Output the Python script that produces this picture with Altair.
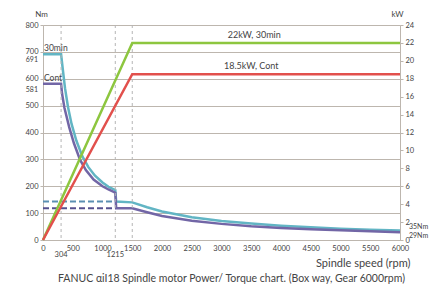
import altair as alt
import pandas as pd

# ---------------- data ----------------
rpm_30 = [0, 304, 330, 370, 420, 480, 560, 660, 760, 870, 1000, 1100, 1215, 1230, 1500,
          1750, 2000, 2500, 3000, 3500, 4000, 4500, 5000, 5500, 6000]
tq_30 = [691, 691, 640, 565, 495, 432, 370, 312, 272, 240, 214, 198, 186, 143, 140,
         122, 106, 85, 71, 61, 53, 47, 42, 38.5, 35]

rpm_cont = [0, 304, 320, 360, 440, 520, 620, 720, 850, 1000, 1100, 1215, 1230, 1500,
            1750, 2000, 2500, 3000, 3500, 4000, 4500, 5000, 5500, 6000]
tq_cont = [581, 581, 545, 492, 420, 360, 300, 260, 225, 200, 188, 176, 118, 118,
           103, 89, 72, 60, 51, 45, 40, 36, 32.5, 29]

rpm_pw = [0, 1500, 6000]
kw_30 = [0, 22, 22]
kw_cont = [0, 18.5, 18.5]

dash_rpm_end = 1215
dash_nm = [143, 118]

vline_rpm = [304, 1215, 1500]
x_ticks = list(range(0, 6001, 500))
y_ticks = list(range(0, 801, 100))
kw_ticks = list(range(0, 25, 2))
extra_x = [304, 1215]
extra_y = [691, 581]
end_nm = [35, 29]

caption = "FANUC \u03b1iI18 Spindle motor Power/ Torque chart. (Box way, Gear 6000rpm)"

# ---------------- styling ----------------
W, H = 357, 215
FONT = "Lato"
TXT = "#444444"
GRID = "#bdb6ae"
C30, CCONT = "#62b5c4", "#7266a6"
CD30, CDCONT = "#5b8fb2", "#55508e"
CG, CR = "#8dc63f", "#e2504c"
TICKFS = 7.5

torque_df = pd.DataFrame({
    "rpm": rpm_30 + rpm_cont,
    "nm": tq_30 + tq_cont,
    "series": ["30min"] * len(rpm_30) + ["Cont"] * len(rpm_cont),
})
power_df = pd.DataFrame({
    "rpm": rpm_pw + rpm_pw,
    "kw": kw_30 + kw_cont,
    "series": ["22kW"] * 3 + ["18.5kW"] * 3,
})
dash_df = pd.DataFrame({"rpm": [0, 0], "rpm2": [dash_rpm_end] * 2, "nm": dash_nm,
                        "series": ["d30", "dcont"]})
vline_df = pd.DataFrame({"rpm": vline_rpm})
xlab_df = pd.DataFrame({"rpm": extra_x, "lab": [str(v) for v in extra_x]})
ylab_df = pd.DataFrame({"nm": extra_y, "lab": [str(v) for v in extra_y]})
end_hi_df = pd.DataFrame({"rpm": [6000], "nm": [end_nm[0]], "lab": [f"{end_nm[0]}Nm"]})
end_lo_df = pd.DataFrame({"rpm": [6000], "nm": [end_nm[1]], "lab": [f"{end_nm[1]}Nm"]})
tlab_df = pd.DataFrame({"rpm": [0, 0], "nm": [691, 581], "lab": ["30min", "Cont"]})
plab_df = pd.DataFrame({"rpm": [3550, 3500], "kw": [22, 18.5],
                        "lab": ["22kW, 30min", "18.5kW, Cont"]})

xscale = alt.Scale(domain=[0, 6000], nice=False)
yscale = alt.Scale(domain=[0, 800], nice=False)
kscale = alt.Scale(domain=[0, 24], nice=False)

X_AXIS = alt.Axis(
    values=x_ticks, format="d", labelOverlap=False, labelFlush=False, grid=False,
    ticks=False, domainColor=GRID, labelFontSize=TICKFS, labelColor=TXT,
    labelFont=FONT, labelPadding=4,
    title="Spindle speed (rpm)", titleFont=FONT, titleFontSize=11,
    titleFontWeight="normal", titleColor=TXT, titleX=W + 10, titleY=26,
    titleAlign="right", titleBaseline="alphabetic")
Y_AXIS = alt.Axis(
    values=y_ticks, format="d", labelOverlap=False, labelFlush=False, grid=True,
    gridColor=GRID, gridWidth=1, domainColor=GRID, tickColor=GRID, tickSize=3,
    labelFontSize=TICKFS, labelColor=TXT, labelFont=FONT, labelPadding=2,
    title="Nm", titleAngle=0, titleX=-2, titleY=-7, titleAlign="center",
    titleBaseline="bottom", titleFont=FONT, titleFontSize=8,
    titleFontWeight="normal", titleColor=TXT)
K_AXIS = alt.Axis(
    orient="right", values=kw_ticks, format="d", labelOverlap=False, labelFlush=False,
    grid=False, domainColor=GRID, tickColor=GRID, tickSize=3, labelFontSize=TICKFS,
    labelColor=TXT, labelFont=FONT, labelPadding=2, title="kW", titleAngle=0,
    titleX=-3, titleY=-7, titleAlign="center", titleBaseline="bottom",
    titleFont=FONT, titleFontSize=8, titleFontWeight="normal", titleColor=TXT)


def xe(field="rpm:Q"):
    return alt.X(field, scale=xscale, axis=X_AXIS)


def ye(field="nm:Q"):
    return alt.Y(field, scale=yscale, axis=Y_AXIS)


def ke(field="kw:Q"):
    return alt.Y(field, scale=kscale, axis=K_AXIS)


color_scale = alt.Scale(domain=["30min", "Cont", "d30", "dcont", "22kW", "18.5kW"],
                        range=[C30, CCONT, CD30, CDCONT, CG, CR])
col = alt.Color("series:N", scale=color_scale, legend=None)

torque = alt.Chart(torque_df).mark_line(strokeWidth=2.5).encode(
    x=xe(), y=ye(), color=col)

vlines = alt.Chart(vline_df).mark_rule(color="#b5b5b5", strokeDash=[3, 3],
                                       strokeWidth=1).encode(x=xe())

dashes = alt.Chart(dash_df).mark_rule(strokeDash=[6, 3], strokeWidth=2).encode(
    x=xe(), x2="rpm2:Q", y=ye(), color=col)

xlabs = alt.Chart(xlab_df).mark_text(fontSize=TICKFS, font=FONT, color=TXT,
                                     baseline="top").encode(
    x=xe(), y=alt.value(H + 11), text="lab:N")

ylabs = alt.Chart(ylab_df).mark_text(fontSize=7, font=FONT, color=TXT, align="right",
                                     dx=-5, dy=6).encode(
    x=alt.value(0), y=ye(), text="lab:N")

end_hi = alt.Chart(end_hi_df).mark_text(fontSize=7, font=FONT, color=TXT, align="left",
                                        dx=9, dy=-4).encode(
    x=xe(), y=ye(), text="lab:N")
end_lo = alt.Chart(end_lo_df).mark_text(fontSize=7, font=FONT, color=TXT, align="left",
                                        dx=9, dy=4).encode(
    x=xe(), y=ye(), text="lab:N")

tlabs = alt.Chart(tlab_df).mark_text(fontSize=8.5, font=FONT, color=TXT, align="left",
                                     baseline="bottom", dx=1, dy=-1).encode(
    x=xe(), y=ye(), text="lab:N")

left = alt.layer(torque, vlines, dashes, xlabs, ylabs, end_hi, end_lo, tlabs)

power = alt.Chart(power_df).mark_line(strokeWidth=2.5).encode(
    x=xe(), y=ke(), color=col)

plabs = alt.Chart(plab_df).mark_text(fontSize=9, font=FONT, color=TXT,
                                     baseline="bottom", dy=-3).encode(
    x=xe(), y=ke(), text="lab:N")

right = alt.layer(power, plabs)

chart = alt.layer(left, right).resolve_scale(y="independent").properties(
    width=W, height=H,
    autosize=alt.AutoSizeParams(type="none"),
    padding={"left": 35, "top": 17, "right": 32, "bottom": 47},
    title=alt.TitleParams(caption, orient="bottom", anchor="middle", fontSize=10.5,
                          font=FONT, fontWeight="normal", color=TXT, offset=5,
                          dx=10, dy=1),
).configure_view(stroke=None).configure(background="white")

chart.save("out.html", embed_options={"renderer": "svg", "actions": False})
